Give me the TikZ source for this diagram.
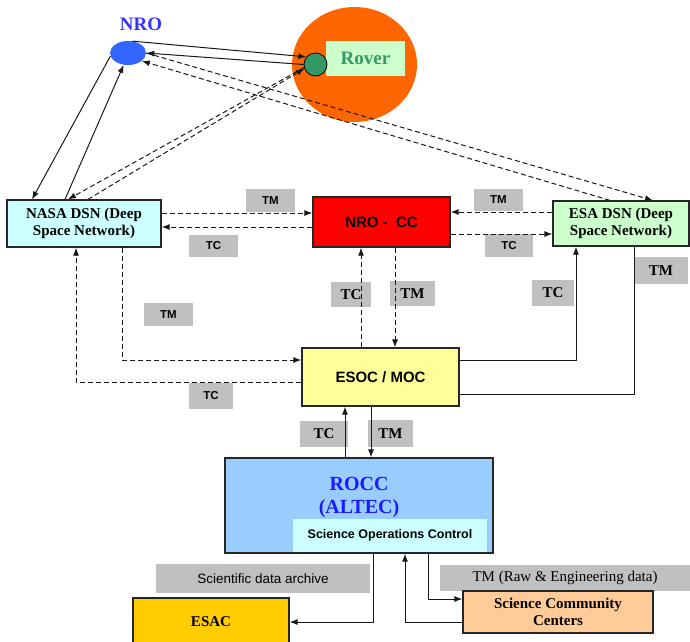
\documentclass[tikz,border=0pt]{standalone}
\usepackage{fontspec}
\setmainfont{Liberation Serif}
\setsansfont{Liberation Sans}
\usetikzlibrary{arrows.meta,calc,shapes.geometric}
\definecolor{grayl}{HTML}{C0C0C0}
\definecolor{nasafill}{HTML}{CCFFFF}
\definecolor{esafill}{HTML}{CCFFCC}
\definecolor{esocfill}{HTML}{FFFF99}
\definecolor{roccfill}{HTML}{99CCFF}
\definecolor{esacfill}{HTML}{FFCC00}
\definecolor{sccfill}{HTML}{FFCC99}
\definecolor{marsorange}{HTML}{FF6600}
\definecolor{rovergreen}{HTML}{339966}
\definecolor{nroblue}{HTML}{3366FF}
\definecolor{nrotext}{HTML}{3333FF}
\definecolor{rocctext}{HTML}{1A1AFF}
\begin{document}
\begin{tikzpicture}[x=1pt,y=-1pt,
  box/.style={draw=black!85, line width=1.2pt, inner sep=0pt, align=center},
  serifb/.style={font=\bfseries\fontsize{15}{17}\selectfont},
  sansb/.style={font=\sffamily\bfseries\fontsize{15}{17}\selectfont},
  lbl/.style={fill=grayl, inner sep=0pt, align=center},
  lsans/.style={lbl, font=\sffamily\bfseries\fontsize{11.5}{13}\selectfont},
  lserif/.style={lbl, font=\bfseries\fontsize{15}{17}\selectfont},
  conn/.style={line width=1pt, draw=black!90, -{Latex[length=8pt,width=6pt]}},
  dconn/.style={conn, dash pattern=on 5pt off 3pt},
  plain/.style={line width=1pt, draw=black!90},
]
\useasboundingbox (0,0) rectangle (690,641);
\clip (0,0) rectangle (690,641);

% ---- Mars / rover / NRO ----
\node[ellipse, fill=marsorange, minimum width=125, minimum height=115, inner sep=0pt] (mars) at (354.5,64.5) {};
\node[fill=esafill, minimum width=79, minimum height=35, inner sep=0pt,
      font=\bfseries\fontsize{19}{21}\selectfont, text=rovergreen] (roverlbl) at (365.5,58.5) {Rover};
\node[circle, fill=rovergreen, draw=black, line width=0.8pt, minimum size=23, inner sep=0pt] (rc) at (315.5,64.5) {};
\node[ellipse, fill=nroblue, minimum width=36, minimum height=24, inner sep=0pt] (nro) at (128,53) {};
\node[font=\bfseries\fontsize{19}{21}\selectfont, text=nrotext] (nrolbl) at (141,24) {NRO};

% ---- gray labels ----
\node[lsans, minimum width=49, minimum height=23] (tm1) at (270.5,200.5) {TM};
\node[lsans, minimum width=49, minimum height=22] (tc1) at (213.5,246) {TC};
\node[lsans, minimum width=49, minimum height=22] (tm2) at (498.5,200) {TM};
\node[lsans, minimum width=48, minimum height=23] (tc2) at (509,245.5) {TC};
\node[lserif, minimum width=40, minimum height=25] (tc3) at (351,294.5) {TC};
\node[lserif, minimum width=45, minimum height=25] (tm3) at (412.5,293.5) {TM};
\node[lserif, minimum width=42, minimum height=26] (tc4) at (553,293) {TC};
\node[lserif, minimum width=54, minimum height=27] (tm4) at (661,270.5) {TM};
\node[lsans, minimum width=49, minimum height=23] (tm5) at (168.5,314.5) {TM};
\node[lsans, minimum width=44, minimum height=26] (tc5) at (211,396) {TC};
\node[lserif, minimum width=48, minimum height=26] (tc6) at (324,434) {TC};
\node[lserif, minimum width=45, minimum height=27] (tm6) at (390.5,433.5) {TM};
\node[lbl, minimum width=214, minimum height=29, font=\sffamily\fontsize{13.5}{15}\selectfont] (sda) at (263,578.5) {Scientific data archive};
\node[lbl, minimum width=250, minimum height=26, font=\fontsize{15}{17}\selectfont] (tmraw) at (565,578) {TM (Raw \& Engineering data)};

% ---- boxes ----
\node[box, serifb, fill=nasafill, minimum width=154, minimum height=47] (nasa) at (84,223.5) {NASA DSN (Deep\\Space Network)};
\node[box, sansb, fill=red, minimum width=137, minimum height=50] (nrocc) at (381.5,222) {NRO -~ CC};
\node[box, serifb, fill=esafill, minimum width=136, minimum height=45] (esa) at (621,223.5) {ESA DSN (Deep\\Space Network)};
\node[box, sansb, fill=esocfill, minimum width=157, minimum height=58] (esoc) at (380.5,377) {ESOC / MOC};
\node[box, fill=roccfill, minimum width=268, minimum height=95] (rocc) at (359,505.5) {};
\node[font=\bfseries\fontsize{20}{23}\selectfont, text=rocctext, align=center] (rocct) at (359,497) {ROCC\\(ALTEC)};
\node[fill=nasafill, minimum width=194, minimum height=33, inner sep=0pt,
      font=\sffamily\bfseries\fontsize{12.5}{14}\selectfont] (soc) at (390,535.5) {Science Operations Control};
\node[box, serifb, fill=esacfill, minimum width=156, minimum height=48] (esac) at (211,622) {ESAC};
\node[box, serifb, fill=sccfill, minimum width=190, minimum height=42] (scc) at (558,612) {Science Community\\Centers};

% ---- space links ----
\draw[conn] (nro.70) -- (rc.140);
\draw[conn] (rc.west) -- (nro.east);
\draw[conn] (nro.190) -- (nasa.north -| 32,0);
\draw[conn] (nasa.north -| 65,0) -- (nro.250);
\draw[dconn] (rc.195) -- (nasa.north -| 68,0);
\draw[dconn] (nasa.north -| 88,0) -- (rc.200);
\draw[dconn] (nro.east) -- (esa.north -| 653,0);
\draw[dconn] (esa.north -| 610,0) -- (nro.-30);

% ---- ground links ----
\draw[dconn] (nasa.east |- 0,213) -- (nrocc.west |- 0,213);
\draw[dconn] (nrocc.west |- 0,227) -- (nasa.east |- 0,227);
\draw[dconn] (esa.west |- 0,212) -- (nrocc.east |- 0,212);
\draw[dconn] (nrocc.east |- 0,234) -- (esa.west |- 0,234);
\draw[dconn] (esoc.north -| 361,0) -- (nrocc.south -| 361,0);
\draw[dconn] (nrocc.south -| 395,0) -- (esoc.north -| 395,0);
\draw[conn] (esoc.east |- 0,360) -| (esa.south -| 576,0);
\draw[plain] (esa.south -| 634,0) |- (esoc.east |- 0,394);
\draw[dconn] (nasa.south -| 122,0) |- (esoc.west |- 0,360);
\draw[dconn] (esoc.west |- 0,382) -| (nasa.south -| 76,0);
\draw[conn] (rocc.north -| 345,0) -- (esoc.south -| 345,0);
\draw[conn] (esoc.south -| 371,0) -- (rocc.north -| 371,0);
\draw[conn] (rocc.south -| 373,0) |- (esac.east |- 0,622);
\draw[conn] (rocc.south -| 428,0) |- (scc.west |- 0,599);
\draw[conn] (scc.west |- 0,622) -| (rocc.south -| 405,0);
\end{tikzpicture}
\end{document}
